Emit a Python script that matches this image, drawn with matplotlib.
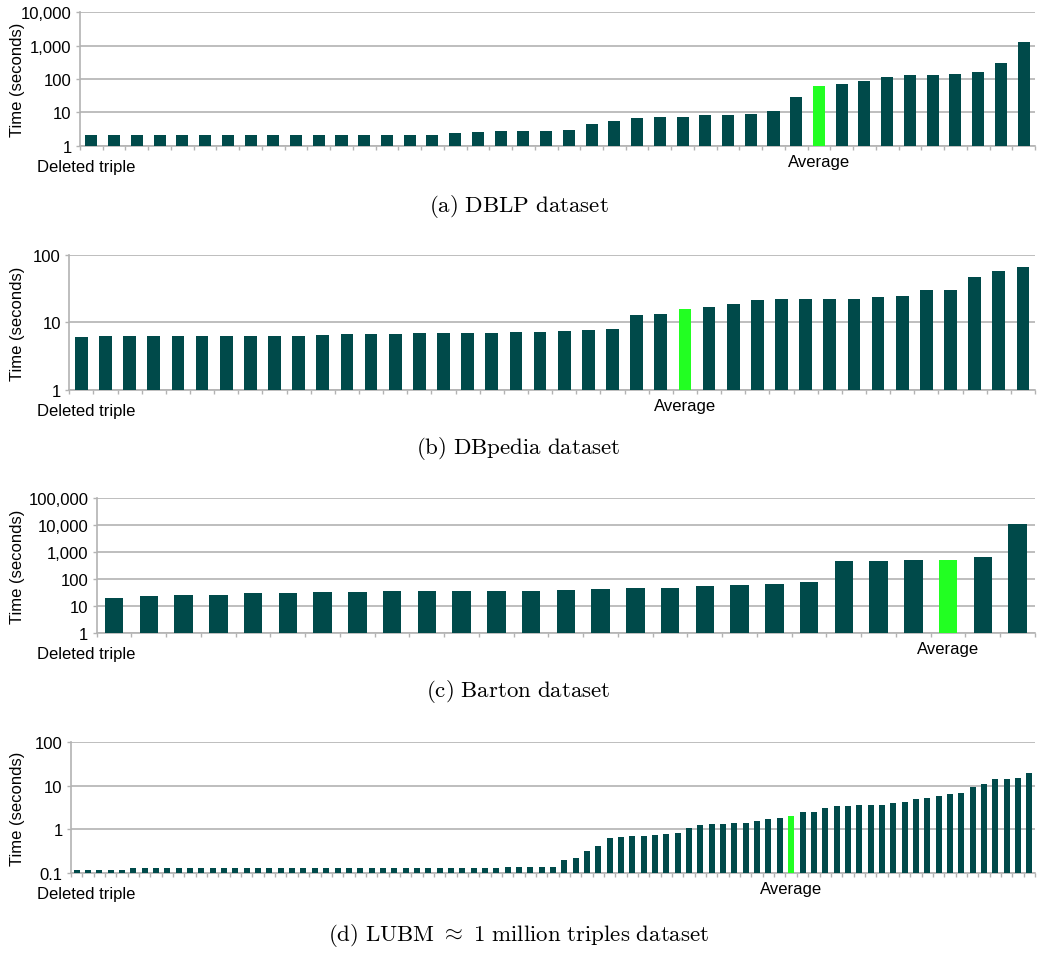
import matplotlib
matplotlib.use("Agg")
import matplotlib.pyplot as plt
from matplotlib.ticker import FixedLocator, FuncFormatter, NullLocator
import numpy as np

# Deletion times (seconds), sorted ascending; the bright bar is the average
dblp_times = [2.1, 2.1, 2.1, 2.1, 2.1, 2.1, 2.1, 2.1, 2.1, 2.1, 2.1, 2.1, 2.1, 2.1,
              2.1, 2.1, 2.4, 2.6, 2.75, 2.75, 2.75, 2.95, 4.5, 5.5, 6.8, 7.2, 7.2,
              8.3, 8.3, 8.9, 11, 29, 62, 71, 87, 115, 132, 132, 141, 162, 300, 1290]
dblp_avg_index = 32

dbpedia_times = [6.05, 6.27, 6.27, 6.27, 6.27, 6.27, 6.27, 6.27, 6.27, 6.27, 6.49,
                 6.71, 6.71, 6.71, 6.95, 6.95, 6.95, 6.95, 7.18, 7.18, 7.43, 7.69,
                 7.96, 12.8, 13.3, 15.8, 16.9, 18.7, 21.5, 22.2, 22.2, 22.2, 22.2,
                 23.8, 24.6, 30.2, 30.2, 47.1, 57.8, 66.3]
dbpedia_avg_index = 25

barton_times = [19.4, 23, 25, 25, 29.7, 29.7, 32.3, 32.3, 35.2, 35.2, 35.2, 35.2,
                35.2, 38.4, 41.8, 45.5, 45.5, 54, 58.9, 64, 76, 458, 458, 499, 499,
                645, 10800]
barton_avg_index = 24

lubm_times = [0.118, 0.118, 0.118, 0.118, 0.118,
              0.126, 0.126, 0.126, 0.126, 0.126, 0.126, 0.126, 0.126, 0.126, 0.126,
              0.126, 0.126, 0.126, 0.126, 0.126, 0.126, 0.126, 0.126, 0.126, 0.126,
              0.126, 0.126, 0.126, 0.126, 0.126, 0.126, 0.126, 0.126, 0.126, 0.126,
              0.126, 0.126, 0.126,
              0.135, 0.135, 0.135, 0.135, 0.135,
              0.195, 0.217, 0.313, 0.408, 0.622, 0.656, 0.69, 0.69, 0.729, 0.768,
              0.81, 1.05, 1.24, 1.30, 1.30, 1.37, 1.37, 1.52, 1.69, 1.79, 1.99,
              2.45, 2.45, 3.03, 3.37, 3.37, 3.55, 3.55, 3.55, 3.94, 4.15, 4.86,
              5.13, 5.7, 6.34, 6.68, 9.16, 10.7, 14.0, 14.0, 14.7, 19.1]
lubm_avg_index = 63

captions = [r"$\mathrm{(a)\ DBLP\ dataset}$",
            r"$\mathrm{(b)\ DBpedia\ dataset}$",
            r"$\mathrm{(c)\ Barton\ dataset}$",
            r"$\mathrm{(d)\ LUBM}\ \approx\ \mathrm{1\ million\ triples\ dataset}$"]

BAR = "#004a4a"
AVG = "#22ff22"
GRID = "#b3b3b3"
W, H = 1037, 954

plt.rcParams["font.family"] = ["Liberation Sans", "DejaVu Sans"]
plt.rcParams["mathtext.fontset"] = "cm"

fig = plt.figure(figsize=(W / 100, H / 100), dpi=100)


def fmt_time(v, pos):
    if v < 1:
        return f"{v:g}"
    return f"{int(round(v)):,}"


def panel(rect_px, values, avg_idx, ylim, caption, cap_y):
    left, top, right, bottom = rect_px
    ax = fig.add_axes([left / W, 1 - bottom / H, (right - left) / W, (bottom - top) / H])
    n = len(values)
    x = np.arange(n)
    colors = [AVG if i == avg_idx else BAR for i in range(n)]
    ax.set_yscale("log")
    ax.bar(x, values, width=0.53, color=colors, zorder=3)
    ax.set_ylim(*ylim)
    ax.set_xlim(-0.5, n - 0.5)

    decades = 10.0 ** np.arange(np.log10(ylim[0]), np.log10(ylim[1]) + 0.5)
    ax.yaxis.set_major_locator(FixedLocator(decades))
    ax.yaxis.set_minor_locator(NullLocator())
    ax.yaxis.set_major_formatter(FuncFormatter(fmt_time))
    ax.grid(axis="y", color=GRID, linewidth=1.2, zorder=0)
    ax.set_axisbelow(True)

    ax.set_xticks([avg_idx])
    ax.set_xticklabels(["Average"])
    ax.set_xticks(np.arange(-0.5, n, 1.0), minor=True)
    ax.tick_params(axis="x", which="major", length=0, pad=6, labelsize=12)
    ax.tick_params(axis="x", which="minor", length=3, color=GRID, width=1)
    ax.tick_params(axis="y", which="major", length=3, color=GRID, width=1,
                   pad=3, labelsize=12)

    for s in ("top", "right"):
        ax.spines[s].set_visible(False)
    for s in ("left", "bottom"):
        ax.spines[s].set_color(GRID)
        ax.spines[s].set_linewidth(1.2)

    mid = (top + bottom) / 2
    fig.text(18 / W, 1 - mid / H, "Time (seconds)", rotation=90,
             ha="center", va="center", fontsize=12)
    fig.text(37 / W, 1 - (bottom + 21) / H, "Deleted triple",
             ha="left", va="center", fontsize=12)
    fig.text(0.5, 1 - cap_y / H, caption, ha="center", va="center", fontsize=16.5)
    return ax


panel((80, 13.3, 1035, 146.7), dblp_times, dblp_avg_index, (1, 10000), captions[0], 207)
panel((69.3, 256, 1035, 390.7), dbpedia_times, dbpedia_avg_index, (1, 100), captions[1], 449)
panel((96.7, 499, 1035, 633.7), barton_times, barton_avg_index, (1, 100000), captions[2], 692)
panel((71, 743, 1035, 873.7), lubm_times, lubm_avg_index, (0.1, 100), captions[3], 936)

fig.savefig("out.png", dpi=100)
